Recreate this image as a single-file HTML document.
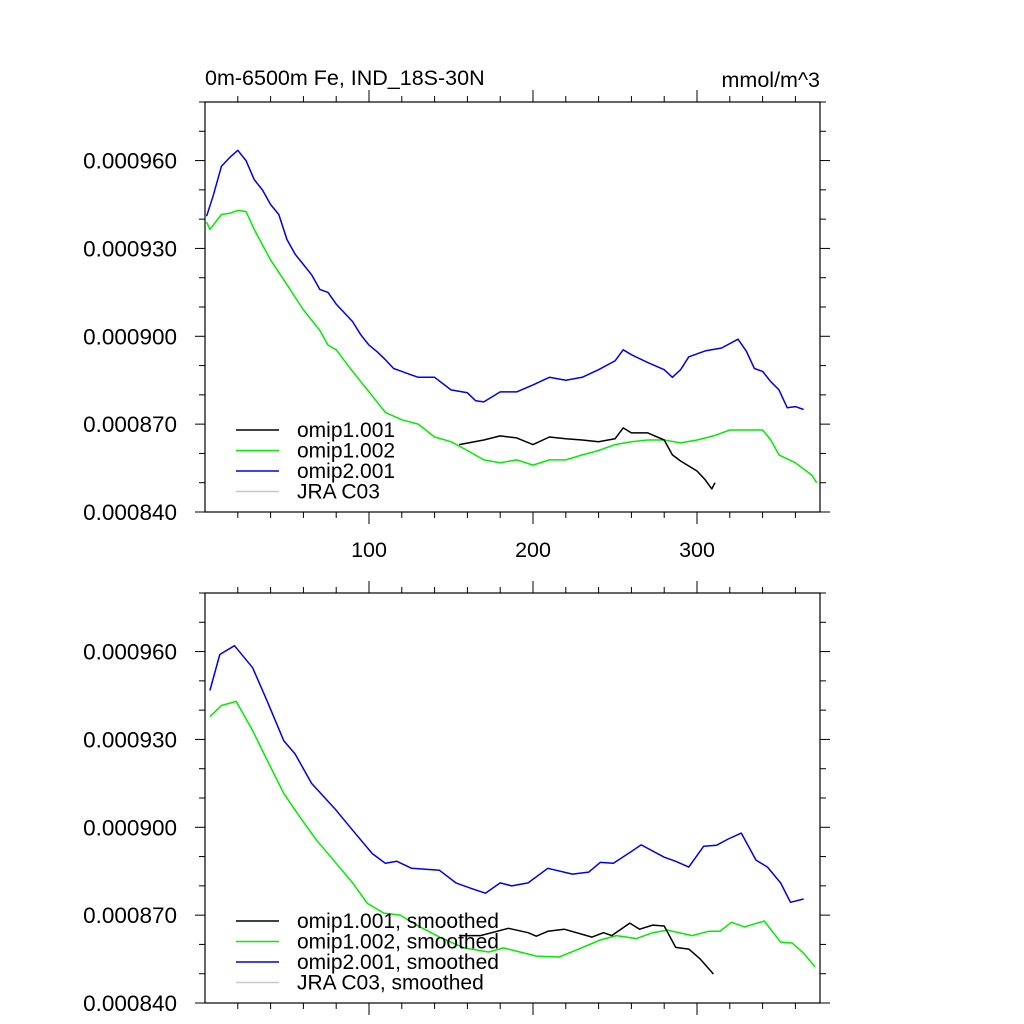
<!DOCTYPE html>
<html><head><meta charset="utf-8"><style>
html,body{margin:0;padding:0;background:#fff;}
svg{display:block;font-family:"Liberation Sans",Helvetica,sans-serif;}
</style></head><body>
<svg id="chart" width="1024" height="1024" viewBox="0 0 1024 1024" xmlns="http://www.w3.org/2000/svg">
<text x="205" y="85" font-size="21.5">0m-6500m Fe, IND_18S-30N</text>
<text x="820" y="87" font-size="21.5" text-anchor="end">mmol/m^3</text>
</svg>
<script>
// Data (values in 1e-6 mmol/m^3)
const yTicks = [840, 870, 900, 930, 960];
const yTickLabels = ["0.000840","0.000870","0.000900","0.000930","0.000960"];
const xTicks = [100, 200, 300];
const xTickLabels = ["100","200","300"];

const blueYears = [1,5,10,15,20,25,30,35,40,45,50,55,60,65,70,75,80,85,90,95,100,105,110,115,120,125,130,140,150,160,165,170,180,190,200,210,220,230,240,250,255,260,270,280,285,290,295,305,315,325,330,335,340,345,350,355,360,365];
const blueVals = [941,948,958,961,963.5,960,953.5,950,945,941.6,933,928,924.5,921,916,915,911,908,905,900.5,897,894.7,892,889,888,887,886,886,881.7,880.7,878,877.6,881,881,883.4,886,885,886,888.6,891.6,895.4,893.7,891,888.6,886,888.6,893,895,896,899,895,889,888,884.5,881.7,875.6,876,875];
const greenYears = [1,3,10,15,20,25,30,40,50,60,70,75,80,90,100,110,120,130,140,150,160,170,180,190,200,210,220,230,240,250,260,270,280,290,300,310,320,330,340,345,350,360,370,373];
const greenVals = [939,936.5,941.6,942,943,942.6,936.5,926,917.6,909,902,897,895.4,888,881,874,871.5,870,865.6,864,861,857.8,856.8,857.8,856,857.8,857.8,859.5,861,863,864,864.6,864.6,863.6,864.6,866,868,868,868,864.6,859.5,856.8,852.6,850];
const blackYears = [155,170,180,190,200,210,220,230,240,250,255,260,270,280,285,290,300,305,309,311];
const blackVals = [863,864.6,866,865.3,863,865.6,865,864.6,864,865,868.7,867,867,864.6,859.5,857.4,854,851,847.9,850];

const sBlueYears = [3,9,18,29,38,48,55,65,80,90,102,110,117,126,143,153,163,171,180,187,197,209,224,234,241,249,258,266,280,287,295,304,312,319,327,336,343,351,357,365];
const sBlueVals = [946.7,959,962,954.5,943,929.6,925,915,905.8,899,891,887.7,888.4,886,885.3,881,879,877.5,881,880,881,886,884,884.7,888,887.7,891,894,889.8,888.4,886.4,893.5,893.9,896,898,888.8,886.4,881,874.4,875.5];
const sGreenYears = [3,10,19,29,38,48,58,68,80,90,99,109,119,129,143,158,173,182,192,202,216,226,241,251,263,273,282,297,307,314,321,329,341,351,358,365,372];
const sGreenVals = [937.8,941.6,943,933,922.8,911.6,903.4,895.6,887.7,881,874,870.7,870,866.6,862.5,858.8,857.4,858.8,857.4,856,855.7,858,861.5,863,862,864,864.9,863,864.5,864.5,867.6,866,868,860.8,860.5,857,852.3];
const sBlackYears = [155,168,185,197,202,209,219,236,243,248,259,265,273,280,287,295,302,310];
const sBlackVals = [863,863,865.5,864,862.8,864.5,865.2,862.5,864,863,867.3,865.2,866.6,866.3,859,858.4,855,849.9];

const legendTop = ["omip1.001","omip1.002","omip2.001","JRA C03"];
const legendBottom = ["omip1.001, smoothed","omip1.002, smoothed","omip2.001, smoothed","JRA C03, smoothed"];
const colors = ["#000000","#00ee00","#0000ee","#c8c8c8"];

const svg = document.getElementById('chart');
const NS = "http://www.w3.org/2000/svg";
const X0 = 205, X1 = 820, XMIN = 0, XMAX = 375;
const VMIN = 840, VMAX = 980;
function xs(v){ return X0 + (v - XMIN) / (XMAX - XMIN) * (X1 - X0); }
function mk(tag, attrs){ const e = document.createElementNS(NS, tag); for (const k in attrs) e.setAttribute(k, attrs[k]); svg.appendChild(e); return e; }

function panel(top, bottom, name, series, legend, legY, showXLabels){
  function ys(v){ return bottom - (v - VMIN) / (VMAX - VMIN) * (bottom - top); }
  const box = mk('rect', {x:X0, y:top, width:X1-X0, height:bottom-top, fill:'none', stroke:'#000', 'stroke-width':1.2});
  
  
  for (let v = VMIN; v <= VMAX; v += 10){
    const major = yTicks.indexOf(v) >= 0;
    const L = major ? 10 : 6;
    const y = ys(v);
    const t1 = mk('line', {x1:X0-L, x2:X0, y1:y, y2:y, stroke:'#000', 'stroke-width':1});
    
    
    const t2 = mk('line', {x1:X1, x2:X1+L, y1:y, y2:y, stroke:'#000', 'stroke-width':1});
    
    
  }
  yTicks.forEach((v,i) => {
    const t = mk('text', {x:177, y:ys(v)+8, 'font-size':22.5, 'text-anchor':'end'});
    t.textContent = yTickLabels[i];
    
    
  });
  for (let v = 20; v < XMAX; v += 20){
    const major = v % 100 === 0;
    const L = major ? 12 : 6;
    const x = xs(v);
    const b = mk('line', {x1:x, x2:x, y1:bottom, y2:bottom+L, stroke:'#000', 'stroke-width':1});
    
    
    const tp = mk('line', {x1:x, x2:x, y1:top-L, y2:top, stroke:'#000', 'stroke-width':1});
    
    
  }
  if (showXLabels){
    xTicks.forEach((v,i) => {
      const t = mk('text', {x:xs(v), y:bottom+45, 'font-size':21.5, 'text-anchor':'middle'});
      t.textContent = xTickLabels[i];
      
      
    });
  }
  series.forEach(s => {
    const pts = s.x.map((x,i) => xs(x).toFixed(1) + ',' + ys(s.y[i]).toFixed(1)).join(' ');
    const p = mk('polyline', {points:pts, fill:'none', stroke:s.c, 'stroke-width':1.5, 'stroke-linejoin':'round'});
    
    
  });
  legend.forEach((lab,i) => {
    const y = legY + i*20.5;
    const l = mk('line', {x1:236, x2:279, y1:y, y2:y, stroke:colors[i], 'stroke-width':1.6});
    
    
    const t = mk('text', {x:297, y:y+7, 'font-size':21});
    t.textContent = lab;
    
    
  });
}

panel(102, 512, 'top-panel', [
  {n:'omip1-002', x:greenYears, y:greenVals, c:colors[1]},
  {n:'omip1-001', x:blackYears, y:blackVals, c:colors[0]},
  {n:'omip2-001', x:blueYears, y:blueVals, c:colors[2]}
], legendTop, 430, true);

panel(593, 1003, 'bottom-panel', [
  {n:'omip1-002-smoothed', x:sGreenYears, y:sGreenVals, c:colors[1]},
  {n:'omip1-001-smoothed', x:sBlackYears, y:sBlackVals, c:colors[0]},
  {n:'omip2-001-smoothed', x:sBlueYears, y:sBlueVals, c:colors[2]}
], legendBottom, 921, false);
</script>
</body></html>
